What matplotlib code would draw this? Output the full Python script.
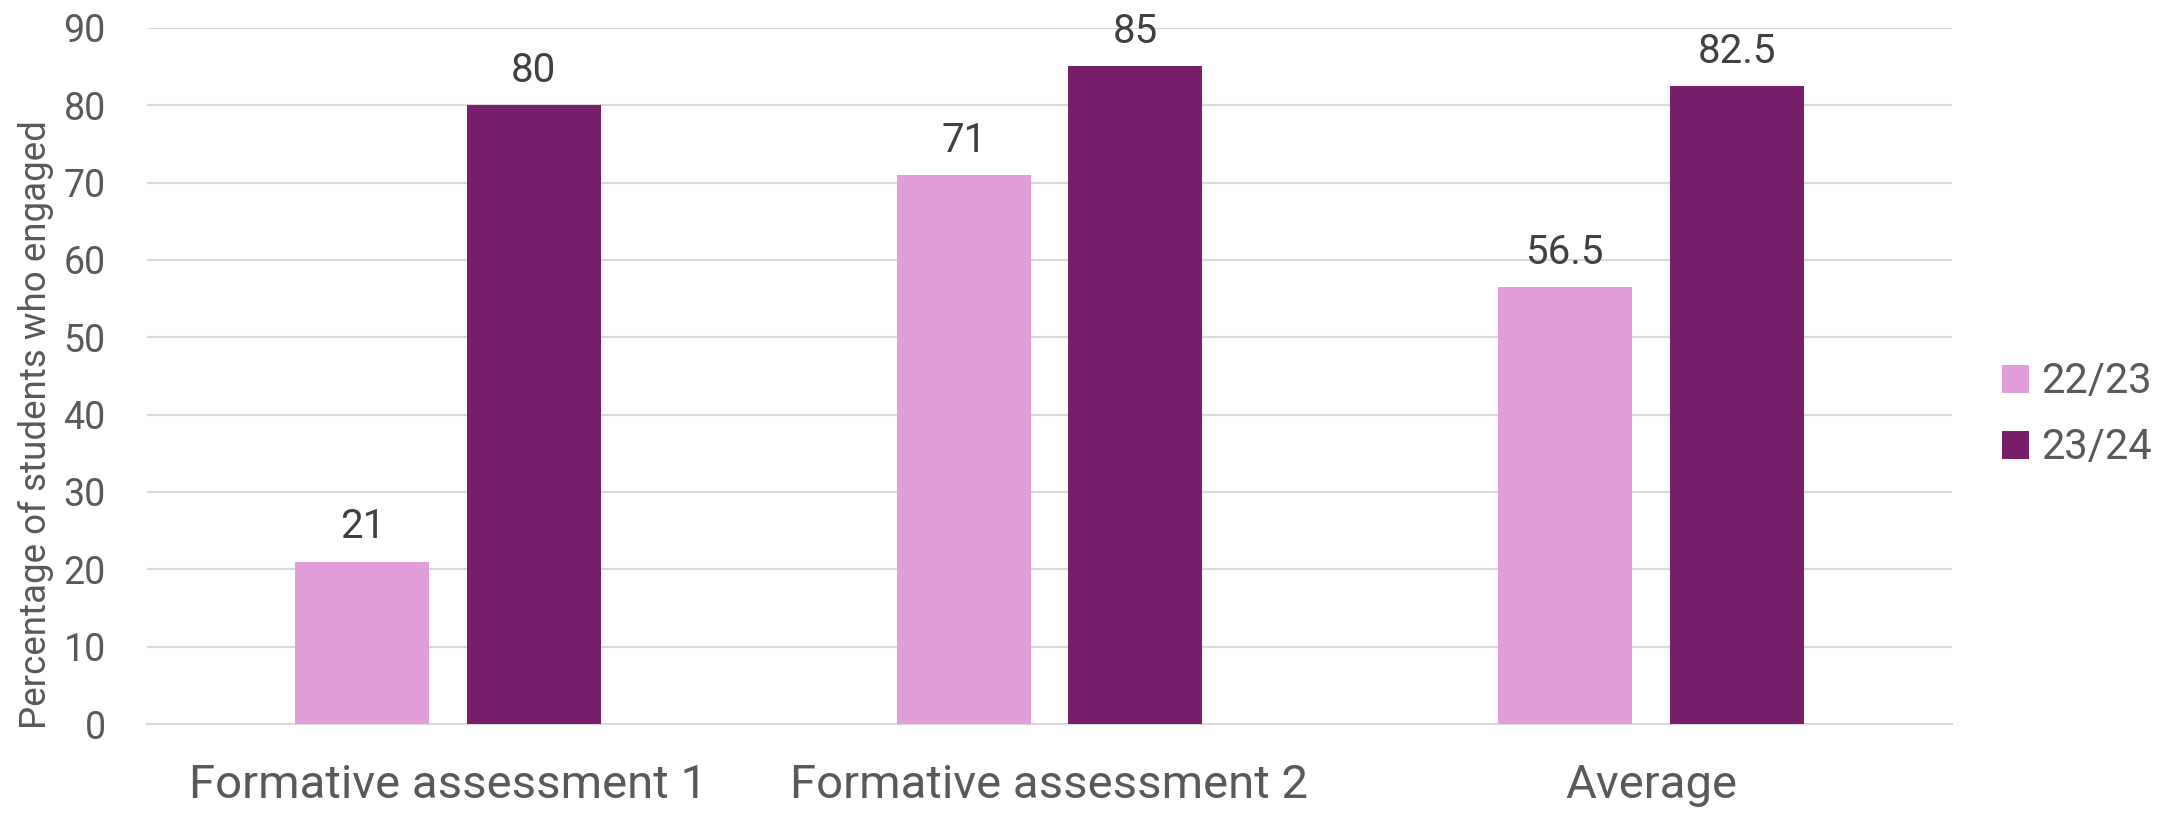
import matplotlib.pyplot as plt
import numpy as np

plt.rcParams['font.family'] = ['Roboto', 'DejaVu Sans']

categories = ['Formative assessment 1', 'Formative assessment 2', 'Average']
series_names = ['22/23', '23/24']
values_2223 = [21, 71, 56.5]
values_2324 = [80, 85, 82.5]
colors = ['#E29EDB', '#771F6B']

fig = plt.figure(figsize=(21.67, 8.17), dpi=100)
ax = fig.add_axes([0.0680, 0.1137, 0.8326, 0.8523])

x = np.arange(len(categories))
width = 0.223
offset = 0.1425

bars1 = ax.bar(x - offset, values_2223, width, color=colors[0], label=series_names[0], zorder=3)
bars2 = ax.bar(x + offset, values_2324, width, color=colors[1], label=series_names[1], zorder=3)

# value labels above each bar
for bars, vals in [(bars1, values_2223), (bars2, values_2324)]:
    for b, v in zip(bars, vals):
        ax.annotate(f'{v:g}', (b.get_x() + b.get_width() / 2, v),
                    xytext=(0, 11), textcoords='offset points',
                    ha='center', va='bottom', fontsize=29, color='#404040')

ax.set_xlim(-0.5, 2.5)
ax.set_ylim(0, 90)
ax.set_yticks(np.arange(0, 91, 10))
ax.yaxis.grid(True, color='#D9D9D9', linewidth=1.5, zorder=0)
ax.set_xticks(x)
ax.set_xticklabels(categories)
ax.tick_params(axis='x', length=0, labelsize=34, labelcolor='#595959', pad=28)
ax.tick_params(axis='y', length=0, labelsize=27, labelcolor='#595959', pad=30)
for s in ['top', 'right', 'left']:
    ax.spines[s].set_visible(False)
ax.spines['bottom'].set_color('#D9D9D9')
ax.spines['bottom'].set_linewidth(1.5)

ax.set_ylabel('Percentage of students who engaged', fontsize=26.5, color='#595959')
ax.yaxis.set_label_coords(-0.052, 0.43)

ax.legend(loc='center left', bbox_to_anchor=(1.0, 0.444), frameon=False, fontsize=30,
          labelcolor='#595959', handlelength=0.65, handleheight=0.65, handletextpad=0.3,
          labelspacing=0.6, borderaxespad=0.8)

fig.savefig('out.png', dpi=100)
